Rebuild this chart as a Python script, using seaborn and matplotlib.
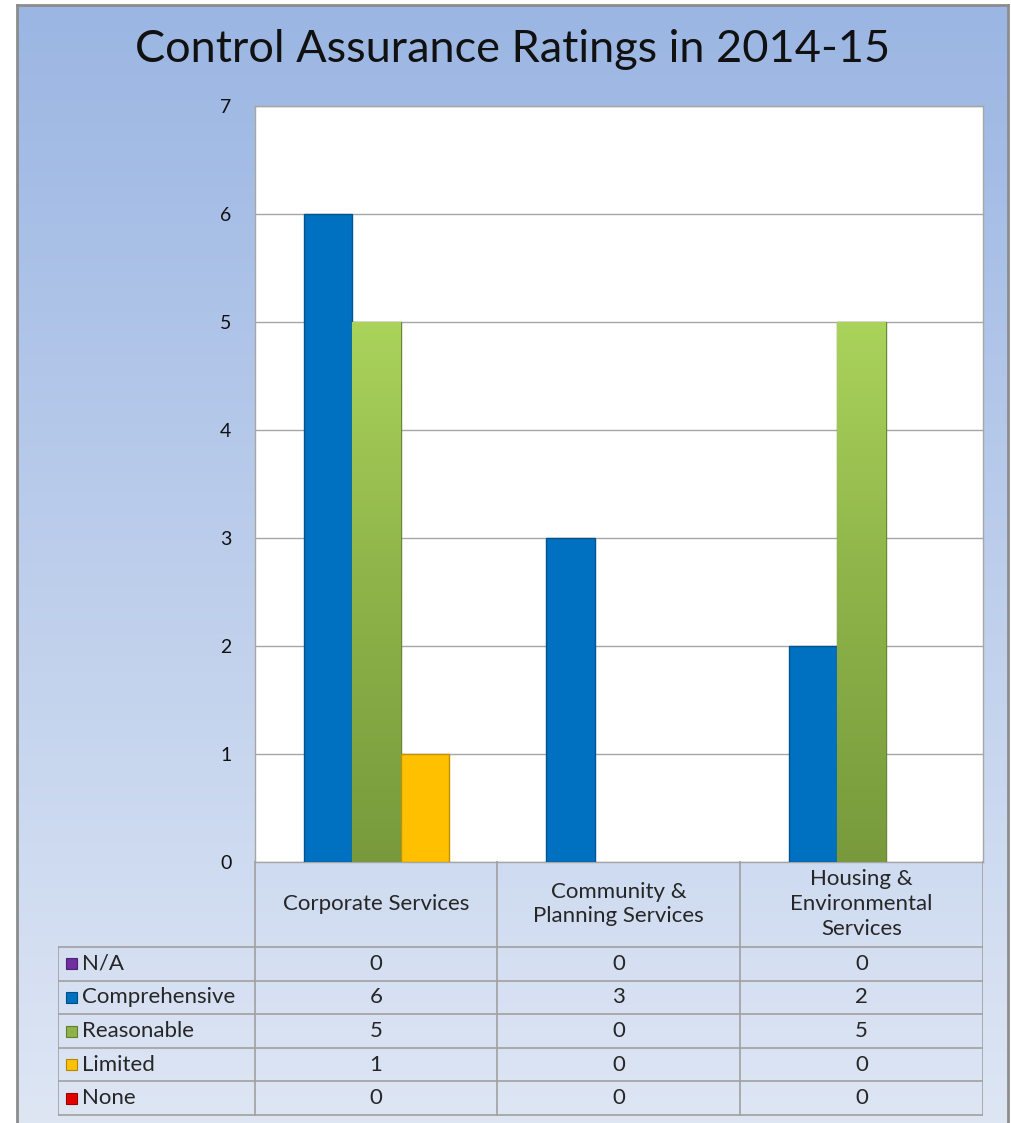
import numpy as np
import pandas as pd
import matplotlib.pyplot as plt
import seaborn as sns
from matplotlib.colors import LinearSegmentedColormap, to_rgb
from matplotlib.patches import Rectangle

departments = ['Corporate Services', 'Community & Planning Services',
               'Housing & Environmental Services']
dept_labels = ['Corporate Services', 'Community &\nPlanning Services',
               'Housing &\nEnvironmental\nServices']
ratings = ['N/A', 'Comprehensive', 'Reasonable', 'Limited', 'None']
na_counts = [0, 0, 0]
comprehensive_counts = [6, 3, 2]
reasonable_counts = [5, 0, 5]
limited_counts = [1, 0, 0]
none_counts = [0, 0, 0]
colors = ['#7030A0', '#0070C0', '#8DB349', '#FFC000', '#E00000']

series = [na_counts, comprehensive_counts, reasonable_counts, limited_counts, none_counts]
df = pd.DataFrame([
    {'department': d, 'rating': r, 'count': vals[i]}
    for r, vals in zip(ratings, series)
    for i, d in enumerate(departments)
])

sns.set_theme(style='white')
plt.rcParams['font.family'] = ['Lato', 'DejaVu Sans']

fig = plt.figure(figsize=(10.11, 11.23), dpi=100)

# gradient background inside a grey frame
bg = fig.add_axes([17 / 1011, 0, 991 / 1011, 1118 / 1123], zorder=-10)
grad = np.linspace(0, 1, 256).reshape(-1, 1)
bg_cmap = LinearSegmentedColormap.from_list('bg', ['#9BB6E3', '#DEE6F4'])
bg.imshow(grad, aspect='auto', cmap=bg_cmap, extent=[0, 1, 0, 1], origin='upper')
bg.set_xticks([])
bg.set_yticks([])
for side in ['left', 'top', 'right']:
    bg.spines[side].set_color('#8C8C8C')
    bg.spines[side].set_linewidth(2)
bg.spines['bottom'].set_visible(False)

fig.text(0.507, 1 - 50 / 1123, 'Control Assurance Ratings in 2014-15',
         ha='center', va='center', fontsize=32.5, color='#111111')

# main bar chart
ax = fig.add_axes([255 / 1011, 1 - 862 / 1123, 728 / 1011, 756 / 1123])
ax.set_facecolor('white')
sns.barplot(data=df, x='department', y='count', hue='rating',
            order=departments, hue_order=ratings, palette=colors,
            width=1.0, gap=0, saturation=1, legend=False, ax=ax, zorder=3)

green_cmap = LinearSegmentedColormap.from_list('green', ['#AAD35B', '#8DB349', '#789A3C'])
for cont, col in zip(ax.containers, colors):
    dark = tuple(c * 0.75 for c in to_rgb(col))
    for bar in cont:
        if bar.get_height() <= 0:
            bar.set_linewidth(0)
            continue
        bar.set_edgecolor(dark)
        bar.set_linewidth(1.0)
        if col == colors[2]:
            x0, w, h = bar.get_x(), bar.get_width(), bar.get_height()
            im = ax.imshow(grad, aspect='auto', cmap=green_cmap, origin='upper',
                           extent=[x0, x0 + w, 0, h], zorder=3.5)
            im.set_clip_path(bar)

ax.set_xlim(-0.5, 2.5)
ax.set_ylim(0, 7)
ax.set_yticks(range(8))
ax.yaxis.grid(True, color='#A6A6A6', linewidth=1)
ax.set_axisbelow(True)
ax.set_xticks([])
ax.set_xlabel('')
ax.set_ylabel('')
ax.tick_params(axis='y', length=0, pad=17, labelsize=14, labelcolor='#111111')
for side in ax.spines:
    ax.spines[side].set_color('#A6A6A6')
    ax.spines[side].set_linewidth(1)

# data table beneath the chart
tax = fig.add_axes([58 / 1011, 7 / 1123, 925 / 1011, 255 / 1123])
tax.set_xlim(0, 925)
tax.set_ylim(255, 0)
tax.axis('off')

line_kw = dict(color='#A0A0A0', linewidth=1.2)
col_edges = [197, 439, 682, 925]
row_top = 86
row_h = 33.6
for x in col_edges:
    tax.plot([x, x], [0, 254], **line_kw)
tax.plot([0, 0], [row_top, 254], **line_kw)
for i in range(6):
    y = row_top + i * row_h
    tax.plot([0, 925], [y, y], **line_kw)

centers = [(col_edges[i] + col_edges[i + 1]) / 2 for i in range(3)]
for cx, label in zip(centers, dept_labels):
    tax.text(cx, 43, label, ha='center', va='center', fontsize=16,
             linespacing=1.3, color='#262626')

for i, (r, vals, col) in enumerate(zip(ratings, series, colors)):
    yc = row_top + (i + 0.5) * row_h
    dark = tuple(c * 0.7 for c in to_rgb(col))
    tax.add_patch(Rectangle((8, yc - 5.5), 11, 11, facecolor=col, edgecolor=dark,
                            linewidth=0.8))
    tax.text(24, yc, r, ha='left', va='center', fontsize=16, color='#262626')
    for cx, v in zip(centers, vals):
        tax.text(cx, yc, str(v), ha='center', va='center', fontsize=16,
                 color='#262626')

fig.savefig('out.png', dpi=100)
